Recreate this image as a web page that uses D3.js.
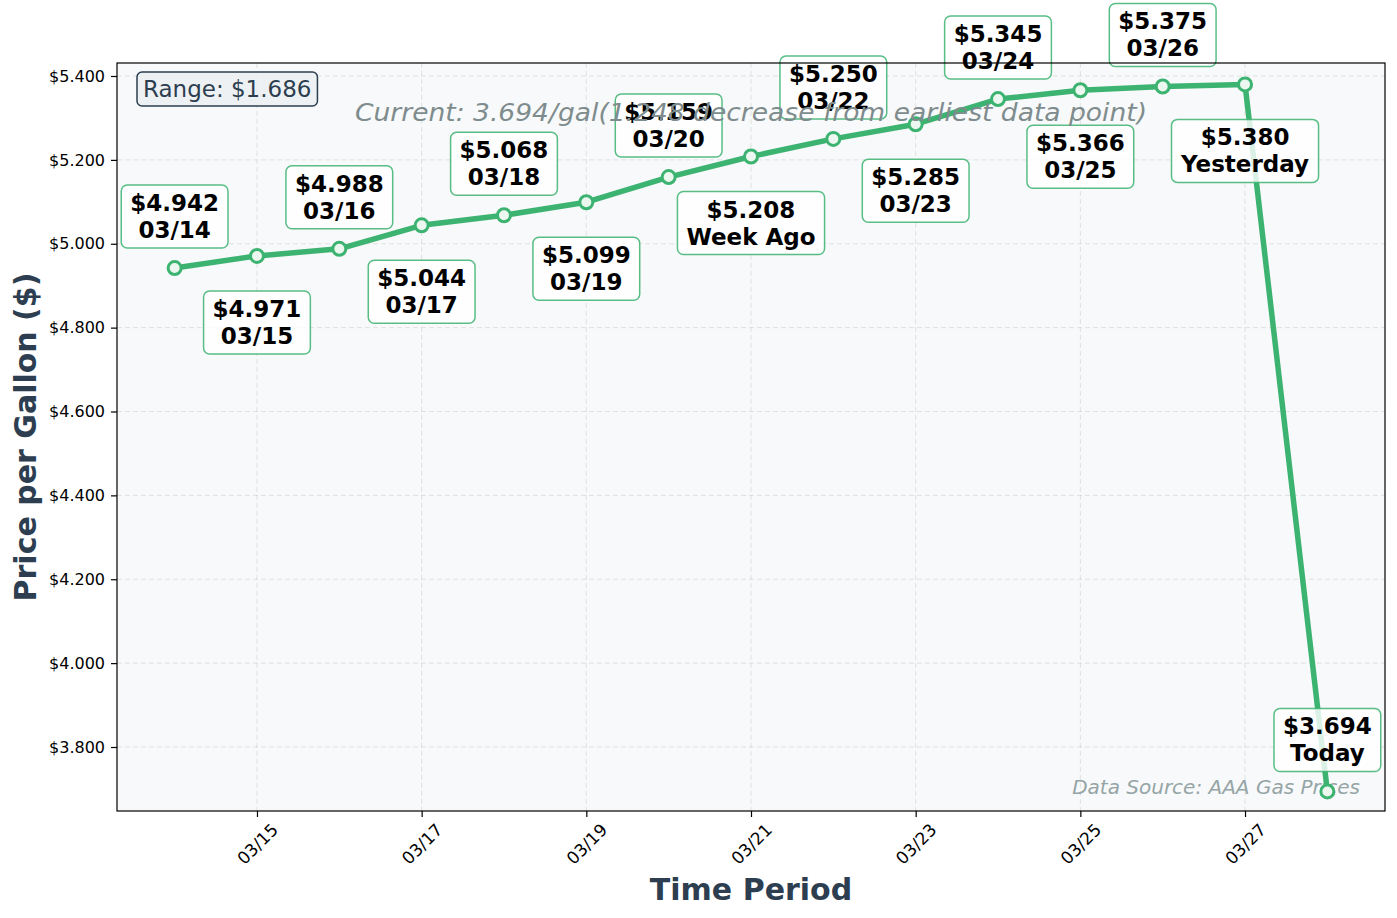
<!DOCTYPE html>
<html>
<head>
<meta charset="utf-8">
<script src="https://cdn.jsdelivr.net/npm/d3@7/dist/d3.min.js"></script>
<style>
  html, body { margin: 0; padding: 0; background: #ffffff; }
  svg { display: block; font-family: "DejaVu Sans", sans-serif; }
</style>
</head>
<body>
<svg id="chart" width="1397" height="918"></svg>
<script>
// ---- data ----
const dates = ["03/14","03/15","03/16","03/17","03/18","03/19","03/20","03/21","03/22","03/23","03/24","03/25","03/26","03/27","03/28"];
const prices = [4.942, 4.971, 4.988, 5.044, 5.068, 5.099, 5.159, 5.208, 5.250, 5.285, 5.345, 5.366, 5.375, 5.380, 3.694];
const pointLabels = ["03/14","03/15","03/16","03/17","03/18","03/19","03/20","Week Ago","03/22","03/23","03/24","03/25","03/26","Yesterday","Today"];
const yTickValues = [3.8, 4.0, 4.2, 4.4, 4.6, 4.8, 5.0, 5.2, 5.4];
const xTickLabels = ["03/15","03/17","03/19","03/21","03/23","03/25","03/27"];
const rangeText = "Range: $1.686";
const currentText = "Current: 3.694/gal(1.248 decrease from earliest data point)";
const sourceText = "Data Source: AAA Gas Prices";
const xTitle = "Time Period";
const yTitle = "Price per Gallon ($)";

// ---- layout ----
const L = 117, R = 1385, T = 63, B = 811;
const green = "#3cb371";
const svg = d3.select("#chart");

const x = d3.scaleLinear().domain([-0.7, dates.length - 1 + 0.7]).range([L, R]);
const y = d3.scaleLinear().domain([3.6474, 5.431]).range([B, T]);

// background
svg.append("rect").attr("x", L).attr("y", T).attr("width", R - L).attr("height", B - T).attr("fill", "#f8f9fa");

// grid
const gGrid = svg.append("g");
gGrid.selectAll("line.gy").data(yTickValues).enter().append("line")
  .attr("x1", L).attr("x2", R).attr("y1", d => y(d)).attr("y2", d => y(d))
  .attr("stroke", "#d0d0d0").attr("stroke-opacity", 0.6).attr("stroke-dasharray", "5,3").attr("stroke-width", 1);
gGrid.selectAll("line.gx").data(xTickLabels).enter().append("line")
  .attr("y1", T).attr("y2", B).attr("x1", d => x(dates.indexOf(d))).attr("x2", d => x(dates.indexOf(d)))
  .attr("stroke", "#d0d0d0").attr("stroke-opacity", 0.6).attr("stroke-dasharray", "5,3").attr("stroke-width", 1);

// axes
const yAxis = d3.axisLeft(y).tickValues(yTickValues).tickSize(6).tickPadding(6).tickFormat(d => "$" + d3.format(".3f")(d));
const gy = svg.append("g").attr("transform", `translate(${L},0)`).call(yAxis);
gy.select(".domain").remove();
gy.selectAll("text").attr("font-size", 16).attr("font-family", "DejaVu Sans").attr("fill", "#000");
gy.selectAll("line").attr("stroke", "#000").attr("stroke-width", 1.2);

const xAxis = d3.axisBottom(x).tickValues(xTickLabels.map(d => dates.indexOf(d))).tickSize(6).tickFormat(i => dates[i]);
const gx = svg.append("g").attr("transform", `translate(0,${B})`).call(xAxis);
gx.select(".domain").remove();
gx.selectAll("line").attr("stroke", "#000").attr("stroke-width", 1.2);
gx.selectAll("text").attr("font-size", 17).attr("font-family", "DejaVu Sans").attr("fill", "#000")
  .attr("text-anchor", "middle").attr("dy", null).attr("y", 0)
  .attr("dominant-baseline", "central")
  .attr("transform", "translate(0,33) rotate(-45)");

// data source text (behind line)
svg.append("text").attr("x", 1360).attr("y", 794).attr("text-anchor", "end")
  .attr("font-size", 20).attr("font-style", "italic").attr("fill", "#95a5a6").text(sourceText);

// line
const line = d3.line().x((d, i) => x(i)).y(d => y(d));
svg.append("path").datum(prices).attr("d", line).attr("fill", "none")
  .attr("stroke", green).attr("stroke-width", 5.5).attr("stroke-linejoin", "round");

// markers
svg.selectAll("circle.pt").data(prices).enter().append("circle")
  .attr("cx", (d, i) => x(i)).attr("cy", d => y(d)).attr("r", 6.5)
  .attr("fill", "#ebf7ef").attr("stroke", green).attr("stroke-width", 3);

// point labels
const gLab = svg.append("g");
prices.forEach((p, i) => {
  const g = gLab.append("g");
  const px = x(i), py = y(p);
  const above = (i % 2 === 0);
  const boxH = 63;
  const top = above ? py - 20 - boxH : py + 35;
  const t = g.append("text").attr("text-anchor", "middle").attr("font-weight", "bold")
    .attr("font-size", 23).attr("fill", "#000");
  t.append("tspan").attr("x", px).attr("y", top + 26).text("$" + d3.format(".3f")(p));
  t.append("tspan").attr("x", px).attr("y", top + 53).text(pointLabels[i]);
  const bb = t.node().getBBox();
  const w = bb.width + 18;
  g.insert("rect", "text").attr("x", px - w / 2).attr("y", top).attr("width", w).attr("height", boxH)
    .attr("rx", 6).attr("fill", "#ffffff").attr("fill-opacity", 0.82)
    .attr("stroke", green).attr("stroke-opacity", 0.85).attr("stroke-width", 1.5);
});

// current text
svg.append("text").attr("x", (L + R) / 2).attr("y", 114).attr("text-anchor", "middle")
  .attr("dominant-baseline", "middle").attr("font-size", 25).attr("font-style", "italic")
  .attr("fill", "#7f8c8d").attr("textLength", 792).attr("lengthAdjust", "spacingAndGlyphs").text(currentText);

// range box
const gR = svg.append("g");
const rt = gR.append("text").attr("x", 143).attr("y", 97).attr("font-size", 23).attr("fill", "#2c3e50").text(rangeText);
const rb = rt.node().getBBox();
gR.insert("rect", "text").attr("x", 137).attr("y", 72).attr("width", rb.width + 12).attr("height", 34)
  .attr("rx", 5).attr("fill", "#ecf0f1").attr("fill-opacity", 0.85).attr("stroke", "#2c3e50").attr("stroke-width", 1.5);

// frame
svg.append("rect").attr("x", L).attr("y", T).attr("width", R - L).attr("height", B - T)
  .attr("fill", "none").attr("stroke", "#000").attr("stroke-width", 1.2);

// axis titles
svg.append("text").attr("x", (L + R) / 2).attr("y", 900).attr("text-anchor", "middle")
  .attr("font-size", 30).attr("font-weight", "bold").attr("fill", "#2c3e50").text(xTitle);
svg.append("text").attr("transform", `translate(36,${(T + B) / 2}) rotate(-90)`).attr("text-anchor", "middle")
  .attr("font-size", 30).attr("font-weight", "bold").attr("fill", "#2c3e50").text(yTitle);
</script>
</body>
</html>
